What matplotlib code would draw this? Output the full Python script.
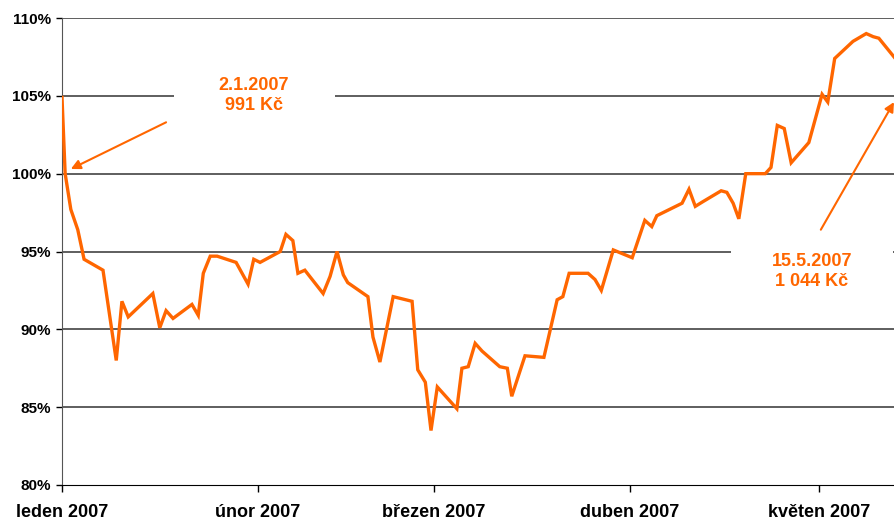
import numpy as np
import matplotlib
matplotlib.use('Agg')
import matplotlib.pyplot as plt
from matplotlib.patches import Rectangle

# days since 1.1.2007 and index value in %
days = [0.0, 0.5, 1.4, 2.5, 3.5, 6.5, 8.6, 9.5, 10.5, 14.4, 15.5, 16.5, 17.6, 20.6, 21.6,
        22.4, 23.5, 24.6, 27.6, 29.5, 30.4, 31.4, 34.6, 35.5, 36.6, 37.4, 38.5, 41.4, 42.5,
        43.6, 44.6, 45.3, 48.5, 49.3, 50.4, 52.5, 55.5, 56.4, 57.6, 58.5, 59.5, 62.6, 63.4,
        64.4, 65.5, 66.6, 69.4, 70.6, 71.3, 73.4, 76.4, 78.5, 79.4, 80.4, 83.4, 84.5, 85.5,
        87.4, 90.4, 92.4, 93.5, 94.3, 98.3, 99.4, 100.4, 101.6, 104.5, 105.4, 106.4, 107.3,
        108.4, 111.5, 112.4, 113.4, 114.5, 115.6, 118.4, 120.5, 121.4, 122.5, 125.4, 127.5,
        128.6, 129.5, 132.1]
values = [104.9, 100.0, 97.7, 96.4, 94.5, 93.8, 88.0, 91.8, 90.8, 92.3, 90.1, 91.2, 90.7, 91.6, 90.9,
          93.6, 94.7, 94.7, 94.3, 92.9, 94.5, 94.3, 95.0, 96.1, 95.7, 93.6, 93.8, 92.3, 93.4,
          95.0, 93.5, 93.0, 92.1, 89.5, 87.9, 92.1, 91.8, 87.4, 86.6, 83.5, 86.3, 84.9, 87.5,
          87.6, 89.1, 88.6, 87.6, 87.5, 85.7, 88.3, 88.2, 91.9, 92.1, 93.6, 93.6, 93.2, 92.5,
          95.1, 94.6, 97.0, 96.6, 97.3, 98.1, 99.0, 97.9, 98.2, 98.9, 98.8, 98.1, 97.1,
          100.0, 100.0, 100.4, 103.1, 102.9, 100.7, 102.0, 105.1, 104.6, 107.4, 108.5, 109.0,
          108.8, 108.7, 107.4]

month_days = [0, 31, 59, 90, 120]
month_labels = ['leden 2007', 'únor 2007', 'březen 2007', 'duben 2007', 'květen 2007']
y_ticks = [80, 85, 90, 95, 100, 105, 110]

orange = '#FF6600'
plt.rcParams['font.family'] = ['Liberation Sans', 'DejaVu Sans']

fig = plt.figure(figsize=(8.95, 5.19), dpi=100)
ax = fig.add_axes([62/895, 1 - 485/519, 1 - 62/895, (485 - 18)/519])

for y in y_ticks[1:]:
    ax.axhline(y, color='#333333', lw=1.1, zorder=1)

# white boxes behind the labels hide the gridlines
ax.add_patch(Rectangle((17.8, 103.5), 25.5, 3.0, facecolor='white', edgecolor='none', zorder=2))
ax.add_patch(Rectangle((106.1, 94.0), 25.7, 2.0, facecolor='white', edgecolor='none', zorder=2))

ax.plot(days, values, color=orange, lw=2.4, zorder=3, solid_joinstyle='miter')

ax.text(30.4, 105.0, '2.1.2007\n991 Kč', color=orange, fontsize=13, fontweight='bold',
        ha='center', va='center', linespacing=1.25, zorder=4)
ax.text(118.9, 93.7, '15.5.2007\n1 044 Kč', color=orange, fontsize=13, fontweight='bold',
        ha='center', va='center', linespacing=1.25, zorder=4)

arrow = dict(arrowstyle='-|>', color=orange, lw=1.5, mutation_scale=14, shrinkA=0, shrinkB=0)
ax.annotate('', xy=(1.4, 100.3), xytext=(16.5, 103.3), arrowprops=arrow, zorder=4)
ax.annotate('', xy=(131.9, 104.6), xytext=(120.3, 96.4), arrowprops=arrow, zorder=4)

ax.set_xlim(0, 132.06)
ax.set_ylim(80, 110)
ax.set_yticks(y_ticks)
ax.set_yticklabels([f'{v}%' for v in y_ticks], fontsize=11, fontweight='bold')
ax.set_xticks(month_days)
ax.set_xticklabels(month_labels, fontsize=13, fontweight='bold')
ax.tick_params(axis='x', length=5, width=1, pad=9, colors='black')
ax.tick_params(axis='y', length=4, width=1, pad=4)

for s in ['top', 'right']:
    ax.spines[s].set_visible(False)
ax.spines['left'].set_color('#555555')
ax.spines['bottom'].set_color('black')

fig.savefig('out.png', dpi=100)
